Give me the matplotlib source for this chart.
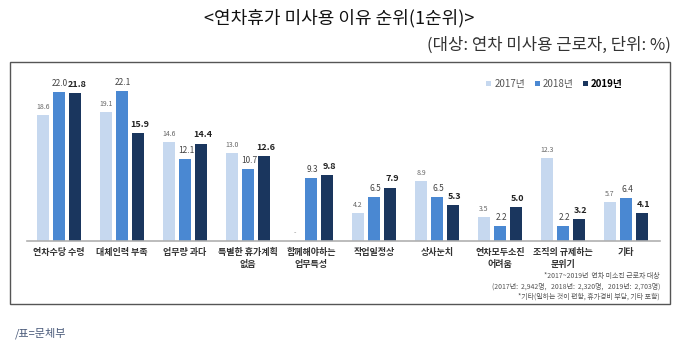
import numpy as np
import matplotlib.pyplot as plt
from matplotlib.patches import Rectangle

plt.rcParams['font.family'] = ['Noto Sans CJK KR', 'DejaVu Sans']

categories = ['연차수당 수령', '대체인력 부족', '업무량 과다', '특별한 휴가계획\n없음', '함께해야하는\n업무특성',
              '작업일정상', '상사눈치', '연차모두소진\n어려움', '조직의 규제하는\n분위기', '기타']
y2017 = [18.6, 19.1, 14.6, 13.0, np.nan, 4.2, 8.9, 3.5, 12.3, 5.7]
y2018 = [22.0, 22.1, 12.1, 10.7, 9.3, 6.5, 6.5, 2.2, 2.2, 6.4]
y2019 = [21.8, 15.9, 14.4, 12.6, 9.8, 7.9, 5.3, 5.0, 3.2, 4.1]
years = ['2017년', '2018년', '2019년']
colors = ['#c6d8ef', '#4a88d2', '#1a365e']

W, H = 681, 346
fig = plt.figure(figsize=(W / 100, H / 100), dpi=100)

# outer frame
fig.add_artist(Rectangle((10 / W, 1 - 304 / H), 660 / W, 242 / H, transform=fig.transFigure,
                         fill=False, edgecolor='#555555', linewidth=1.0))

ax = fig.add_axes([27 / W, 1 - 241 / H, 633 / W, 171 / H])
x = np.arange(len(categories))
bw, step = 0.19, 0.254
series = [y2017, y2018, y2019]
for k, (vals, c) in enumerate(zip(series, colors)):
    ax.bar(x + (k - 1) * step, vals, width=bw, color=c, label=years[k])

for i in range(len(categories)):
    v = y2017[i]
    if np.isnan(v):
        ax.text(x[i] - step, 0.6, '-', ha='center', va='bottom', fontsize=5, color='#888888')
    else:
        ax.text(x[i] - step, v + 0.6, f'{v:.1f}', ha='center', va='bottom', fontsize=5, color='#666666')
    v = y2018[i]
    ax.text(x[i] + 0.02, v + 0.6, f'{v:.1f}', ha='center', va='bottom', fontsize=6, color='#444444')
    v = y2019[i]
    ax.text(x[i] + step + 0.03, v + 0.6, f'{v:.1f}', ha='center', va='bottom', fontsize=6.5,
            fontweight='bold', color='#222222')

ax.set_xlim(-0.508, 9.54)
ax.set_ylim(0, 25.26)
for s in ['top', 'right', 'left']:
    ax.spines[s].set_visible(False)
ax.spines['bottom'].set_color('#b0b0b0')
ax.spines['bottom'].set_linewidth(1.2)
ax.set_yticks([])
ax.set_xticks(x)
ax.set_xticklabels(categories, fontsize=6.5, color='#333333', fontweight='bold', linespacing=1.45)
ax.tick_params(axis='x', length=0, pad=5)

leg = ax.legend(loc='upper right', bbox_to_anchor=(0.955, 1.0), ncol=3, frameon=False,
                fontsize=7, handlelength=0.5, handleheight=0.5, handletextpad=0.3, columnspacing=1.0)
leg.get_texts()[0].set_color('#555555')
leg.get_texts()[1].set_color('#555555')
leg.get_texts()[2].set_fontweight('bold')

fig.text(339 / W, 1 - 18 / H, '<연차휴가 미사용 이유 순위(1순위)>', ha='center', va='center',
         fontsize=13, color='#111111')
fig.text(671 / W, 1 - 45 / H, '(대상: 연차 미사용 근로자, 단위: %)', ha='right', va='center',
         fontsize=12, color='#333333')

notes = ['*2017~2019년  연차 미소진 근로자 대상',
         '(2017년:  2,942명,   2018년:  2,320명,   2019년:  2,703명)',
         '*기타(일하는 것이 편함, 휴가경비 부담, 기타 포함)']
for j, t in enumerate(notes):
    fig.text(660 / W, 1 - (276 + j * 10.5) / H, t, ha='right', va='center', fontsize=5, color='#555555')

fig.text(15 / W, 1 - 333 / H, '/표=문체부', ha='left', va='center', fontsize=8, color='#4a5a7a')

fig.savefig('out.png', dpi=100)
